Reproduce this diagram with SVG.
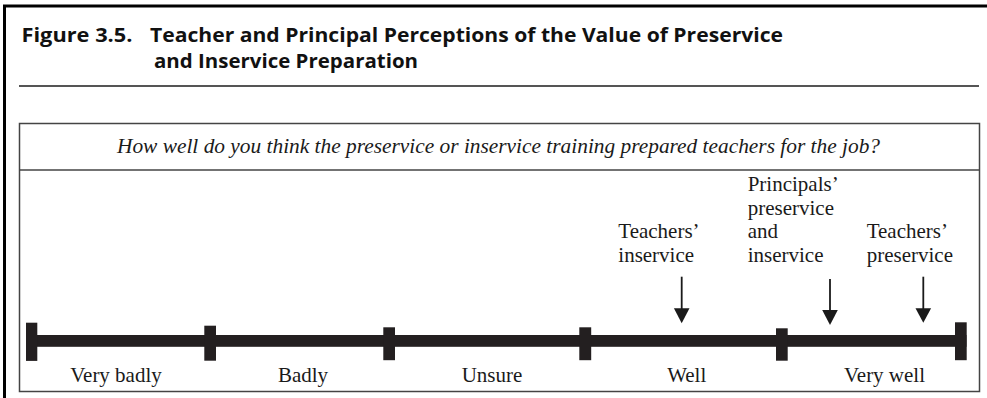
<svg xmlns="http://www.w3.org/2000/svg" width="987" height="398" viewBox="0 0 987 398">
<defs>
<style>
.title{font-family:"Open Sans","Liberation Sans",sans-serif;font-weight:700;font-size:20px;fill:#111}
.lbl{font-family:"Liberation Serif","Times New Roman",serif;font-size:21px;fill:#1a1a1a}
.q{font-family:"Liberation Serif","Times New Roman",serif;font-style:italic;font-size:20px;fill:#1a1a1a}
.frame{fill:none;stroke:#000;stroke-width:3}
.rule{stroke:#555;stroke-width:2}
.box{fill:#fff;stroke:#444;stroke-width:1.5}
.bar{fill:#231f20}
.arr{stroke:#1a1a1a;stroke-width:1.8;fill:none}
.head{fill:#1a1a1a}
</style>
</defs>
<rect width="987" height="398" fill="#fff"/>
<g id="frame">
<path class="frame" d="M4.5,398 V6 H987"/>
<line class="rule" x1="19" y1="86" x2="979" y2="86"/>
</g>
<g id="title">
<text class="title" x="21.5" y="41.5" textLength="111" lengthAdjust="spacingAndGlyphs">Figure 3.5.</text>
<text class="title" x="150" y="41.5" textLength="633" lengthAdjust="spacingAndGlyphs">Teacher and Principal Perceptions of the Value of Preservice</text>
<text class="title" x="154" y="67.5" textLength="264" lengthAdjust="spacingAndGlyphs">and Inservice Preparation</text>
</g>
<g id="panel">
<rect class="box" x="19.5" y="123.5" width="960" height="268"/>
<line x1="19.5" y1="170" x2="979.5" y2="170" stroke="#444" stroke-width="1.5"/>
<text class="q" x="117" y="153.3" textLength="763" lengthAdjust="spacingAndGlyphs">How well do you think the preservice or inservice training prepared teachers for the job?</text>
</g>
<g id="scale">
<rect class="bar" x="26" y="335" width="940.5" height="11.8"/>
<rect class="bar" x="26" y="322.7" width="11.3" height="38.2"/>
<rect class="bar" x="204.3" y="325.7" width="11.7" height="35"/>
<rect class="bar" x="383.3" y="327.3" width="11.7" height="32.9"/>
<rect class="bar" x="579.3" y="327.3" width="11.9" height="32.9"/>
<rect class="bar" x="776" y="328.3" width="11.7" height="32.4"/>
<rect class="bar" x="955" y="322.3" width="11.7" height="37.9"/>
</g>
<g id="scale-labels">
<text class="lbl" x="116" y="381.7" text-anchor="middle">Very badly</text>
<text class="lbl" x="303" y="381.7" text-anchor="middle">Badly</text>
<text class="lbl" x="492" y="381.7" text-anchor="middle">Unsure</text>
<text class="lbl" x="686.7" y="381.7" text-anchor="middle">Well</text>
<text class="lbl" x="884.5" y="381.7" text-anchor="middle">Very well</text>
</g>
<g id="teachers-inservice">
<text class="lbl" x="618.3" y="238.3">Teachers’</text>
<text class="lbl" x="618.3" y="261.7">inservice</text>
</g>
<g id="principals">
<text class="lbl" x="747.7" y="191">Principals’</text>
<text class="lbl" x="747.7" y="214.5">preservice</text>
<text class="lbl" x="747.7" y="238.3">and</text>
<text class="lbl" x="747.7" y="261.7">inservice</text>
</g>
<g id="teachers-preservice">
<text class="lbl" x="866.7" y="238.3">Teachers’</text>
<text class="lbl" x="866.7" y="261.7">preservice</text>
</g>
<g id="connectors">
<line class="arr" x1="681.7" y1="276.7" x2="681.7" y2="310"/>
<polygon class="head" points="673.9,308.3 689.5,308.3 681.7,323.3"/>
<line class="arr" x1="830" y1="279" x2="830" y2="312"/>
<polygon class="head" points="822.2,310 837.8,310 830,325"/>
<line class="arr" x1="923.3" y1="276.7" x2="923.3" y2="310"/>
<polygon class="head" points="915.5,308.3 931.1,308.3 923.3,322.7"/>
</g>
</svg>
